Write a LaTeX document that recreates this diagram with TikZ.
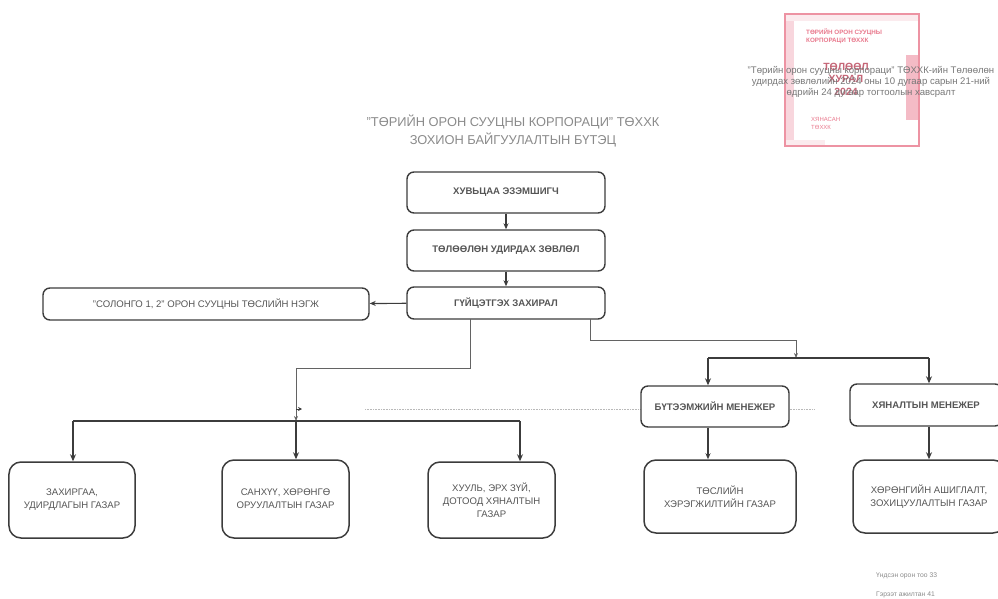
\documentclass[tikz,border=0pt]{standalone}
\usepackage{fontspec}
\setmainfont{Liberation Sans}
\usetikzlibrary{arrows.meta}
\definecolor{ln}{HTML}{3C3C3C}
\definecolor{tx}{HTML}{555555}
\definecolor{lt}{HTML}{8A8A8A}
\definecolor{st}{HTML}{E8788C}
\tikzset{
  org/.style={draw=ln,line width=1.4bp,rounded corners=7bp,fill=white,text=tx,align=center,inner sep=0pt,font=\fontsize{9.6}{13}\selectfont},
  big/.style={org,rounded corners=12bp,line width=1.5bp},
  thin/.style={draw=ln!80,line width=0.9bp},
  wire/.style={draw=ln,line width=1.2bp,-{Stealth[length=6bp,width=5bp]}},
  bus/.style={draw=ln,line width=2bp},
  drop/.style={draw=ln,line width=2bp,-{Stealth[length=7bp,width=6bp]}},
  caption/.style={text=lt,align=center,inner sep=0pt},
  stamptext/.style={text=st,align=left,inner sep=0pt}
}
\newcommand{\orgbox}[6]{\node[#2,minimum width=#5bp-#3bp,minimum height=#6bp-#4bp] (#1) at ({(#3+#5)/2},{(#4+#6)/2})}
\begin{document}
\begin{tikzpicture}[x=1bp,y=-1bp]
\useasboundingbox (0,0) rectangle (998,599);
% stamp
\fill[st!30] (785,14) rectangle (794,147);
\fill[st!15] (785,14) rectangle (919,21);
\fill[st!50] (906,55) rectangle (919,120);
\fill[st!15] (785,140) rectangle (825,147);
\node[draw=st!80,line width=2bp,minimum width=134bp,minimum height=132bp,inner sep=0pt] (stamp) at (852,80.5) {};
\node[stamptext,font=\bfseries\fontsize{6.3}{8}\selectfont,anchor=north west] (stampa) at (806,29) {ТӨРИЙН ОРОН СУУЦНЫ\\КОРПОРАЦИ ТӨХХК};
\node[stamptext,font=\bfseries\fontsize{10.5}{12.5}\selectfont,align=center,text=st!85!black] (stampb) at (846,79) {ТӨЛӨӨЛ\\ХУРАЛ\\2024};
\node[stamptext,font=\fontsize{6}{8}\selectfont,anchor=north west] (stampc) at (811,117) {ХЯНАСАН\\ТӨХХК};
\node[caption,font=\fontsize{9.6}{11}\selectfont,text=tx!80] (note) at (871,82) {"Төрийн орон сууцны корпораци" ТӨХХК-ийн Төлөөлөн\\удирдах зөвлөлийн 2024 оны 10 дугаар сарын 21-ний\\өдрийн 24 дугаар тогтоолын хавсралт};
% title
\node[caption,font=\fontsize{12.9}{19}\selectfont] (title) at (513,131) {"ТӨРИЙН ОРОН СУУЦНЫ КОРПОРАЦИ" ТӨХХК\\ЗОХИОН БАЙГУУЛАЛТЫН БҮТЭЦ};
% dotted guide
\coordinate (da) at (365,409); \coordinate (db) at (815,409);
\draw[lt!60,line width=0.6bp,densely dotted] (da) -- (db);
% boxes
\orgbox{owner}{org}{407}{172}{605}{213} {\textbf{ХУВЬЦАА ЭЗЭМШИГЧ}};
\orgbox{board}{org}{407}{230}{605}{271} {\textbf{ТӨЛӨӨЛӨН УДИРДАХ ЗӨВЛӨЛ}};
\orgbox{ceo}{org}{407}{287}{605}{319} {\textbf{ГҮЙЦЭТГЭХ ЗАХИРАЛ}};
\orgbox{unit}{org}{43}{288}{369}{320} {"СОЛОНГО 1, 2" ОРОН СУУЦНЫ ТӨСЛИЙН НЭГЖ};
\orgbox{admin}{big}{9}{462}{135}{538} {ЗАХИРГАА,\\УДИРДЛАГЫН ГАЗАР};
\orgbox{fin}{big}{222}{460}{349}{538} {САНХҮҮ, ХӨРӨНГӨ\\ОРУУЛАЛТЫН ГАЗАР};
\orgbox{law}{big}{428}{462}{555}{538} {ХУУЛЬ, ЭРХ ЗҮЙ,\\ДОТООД ХЯНАЛТЫН\\ГАЗАР};
\orgbox{build}{org}{641}{386}{789}{427} {\textbf{БҮТЭЭМЖИЙН МЕНЕЖЕР}};
\orgbox{ctrl}{org}{850}{384}{1002}{426} {\textbf{ХЯНАЛТЫН МЕНЕЖЕР}};
\orgbox{proj}{big}{644}{460}{796}{533} {ТӨСЛИЙН\\ХЭРЭГЖИЛТИЙН ГАЗАР};
\orgbox{asset}{big}{853}{460}{1005}{533} {ХӨРӨНГИЙН АШИГЛАЛТ,\\ЗОХИЦУУЛАЛТЫН ГАЗАР};
% upper chain
\draw[wire] (owner) -- (board);
\draw[wire] (board) -- (ceo);
\draw[wire] (ceo) -- (unit);
% left branch
\coordinate (ls) at (470,319); \coordinate (lk) at (470,368); \coordinate (lb) at (296,368);
\coordinate (hub) at (296,421);
\draw[thin,-{Stealth[length=5bp,width=4bp]}] (ls) -- (lk) -- (lb) -- (hub);
\coordinate (tick) at (302,409); \coordinate (tickb) at (296,409);
\draw[ln,line width=1bp,-{Stealth[length=4bp,width=4bp]}] (tickb) -- (tick);
\coordinate (ha) at (73,421); \coordinate (hc) at (520,421);
\draw[bus] (ha) -- (hc);
\draw[drop] (ha) -- (ha |- admin.north);
\draw[drop] (hub) -- (hub |- fin.north);
\draw[drop] (hc) -- (hc |- law.north);
% right branch
\coordinate (rs) at (590,319); \coordinate (rk) at (590,340); \coordinate (rb) at (796,340);
\coordinate (rhub) at (796,358);
\draw[thin,-{Stealth[length=5bp,width=4bp]}] (rs) -- (rk) -- (rb) -- (rhub);
\coordinate (ra) at (708,358); \coordinate (rc) at (929,358);
\draw[bus] (ra) -- (rc);
\draw[drop] (ra) -- (ra |- build.north);
\draw[drop] (rc) -- (rc |- ctrl.north);
\draw[wire] (ra |- build.south) -- (ra |- proj.north);
\draw[drop] (rc |- ctrl.south) -- (rc |- asset.north);
% footer
\node[caption,font=\fontsize{6.8}{8}\selectfont,anchor=west] (staff) at (876,576) {Үндсэн орон тоо 33};
\node[caption,font=\fontsize{6.8}{8}\selectfont,anchor=west] (hired) at (876,595) {Гэрээт ажилтан 41};
\end{tikzpicture}
\end{document}
